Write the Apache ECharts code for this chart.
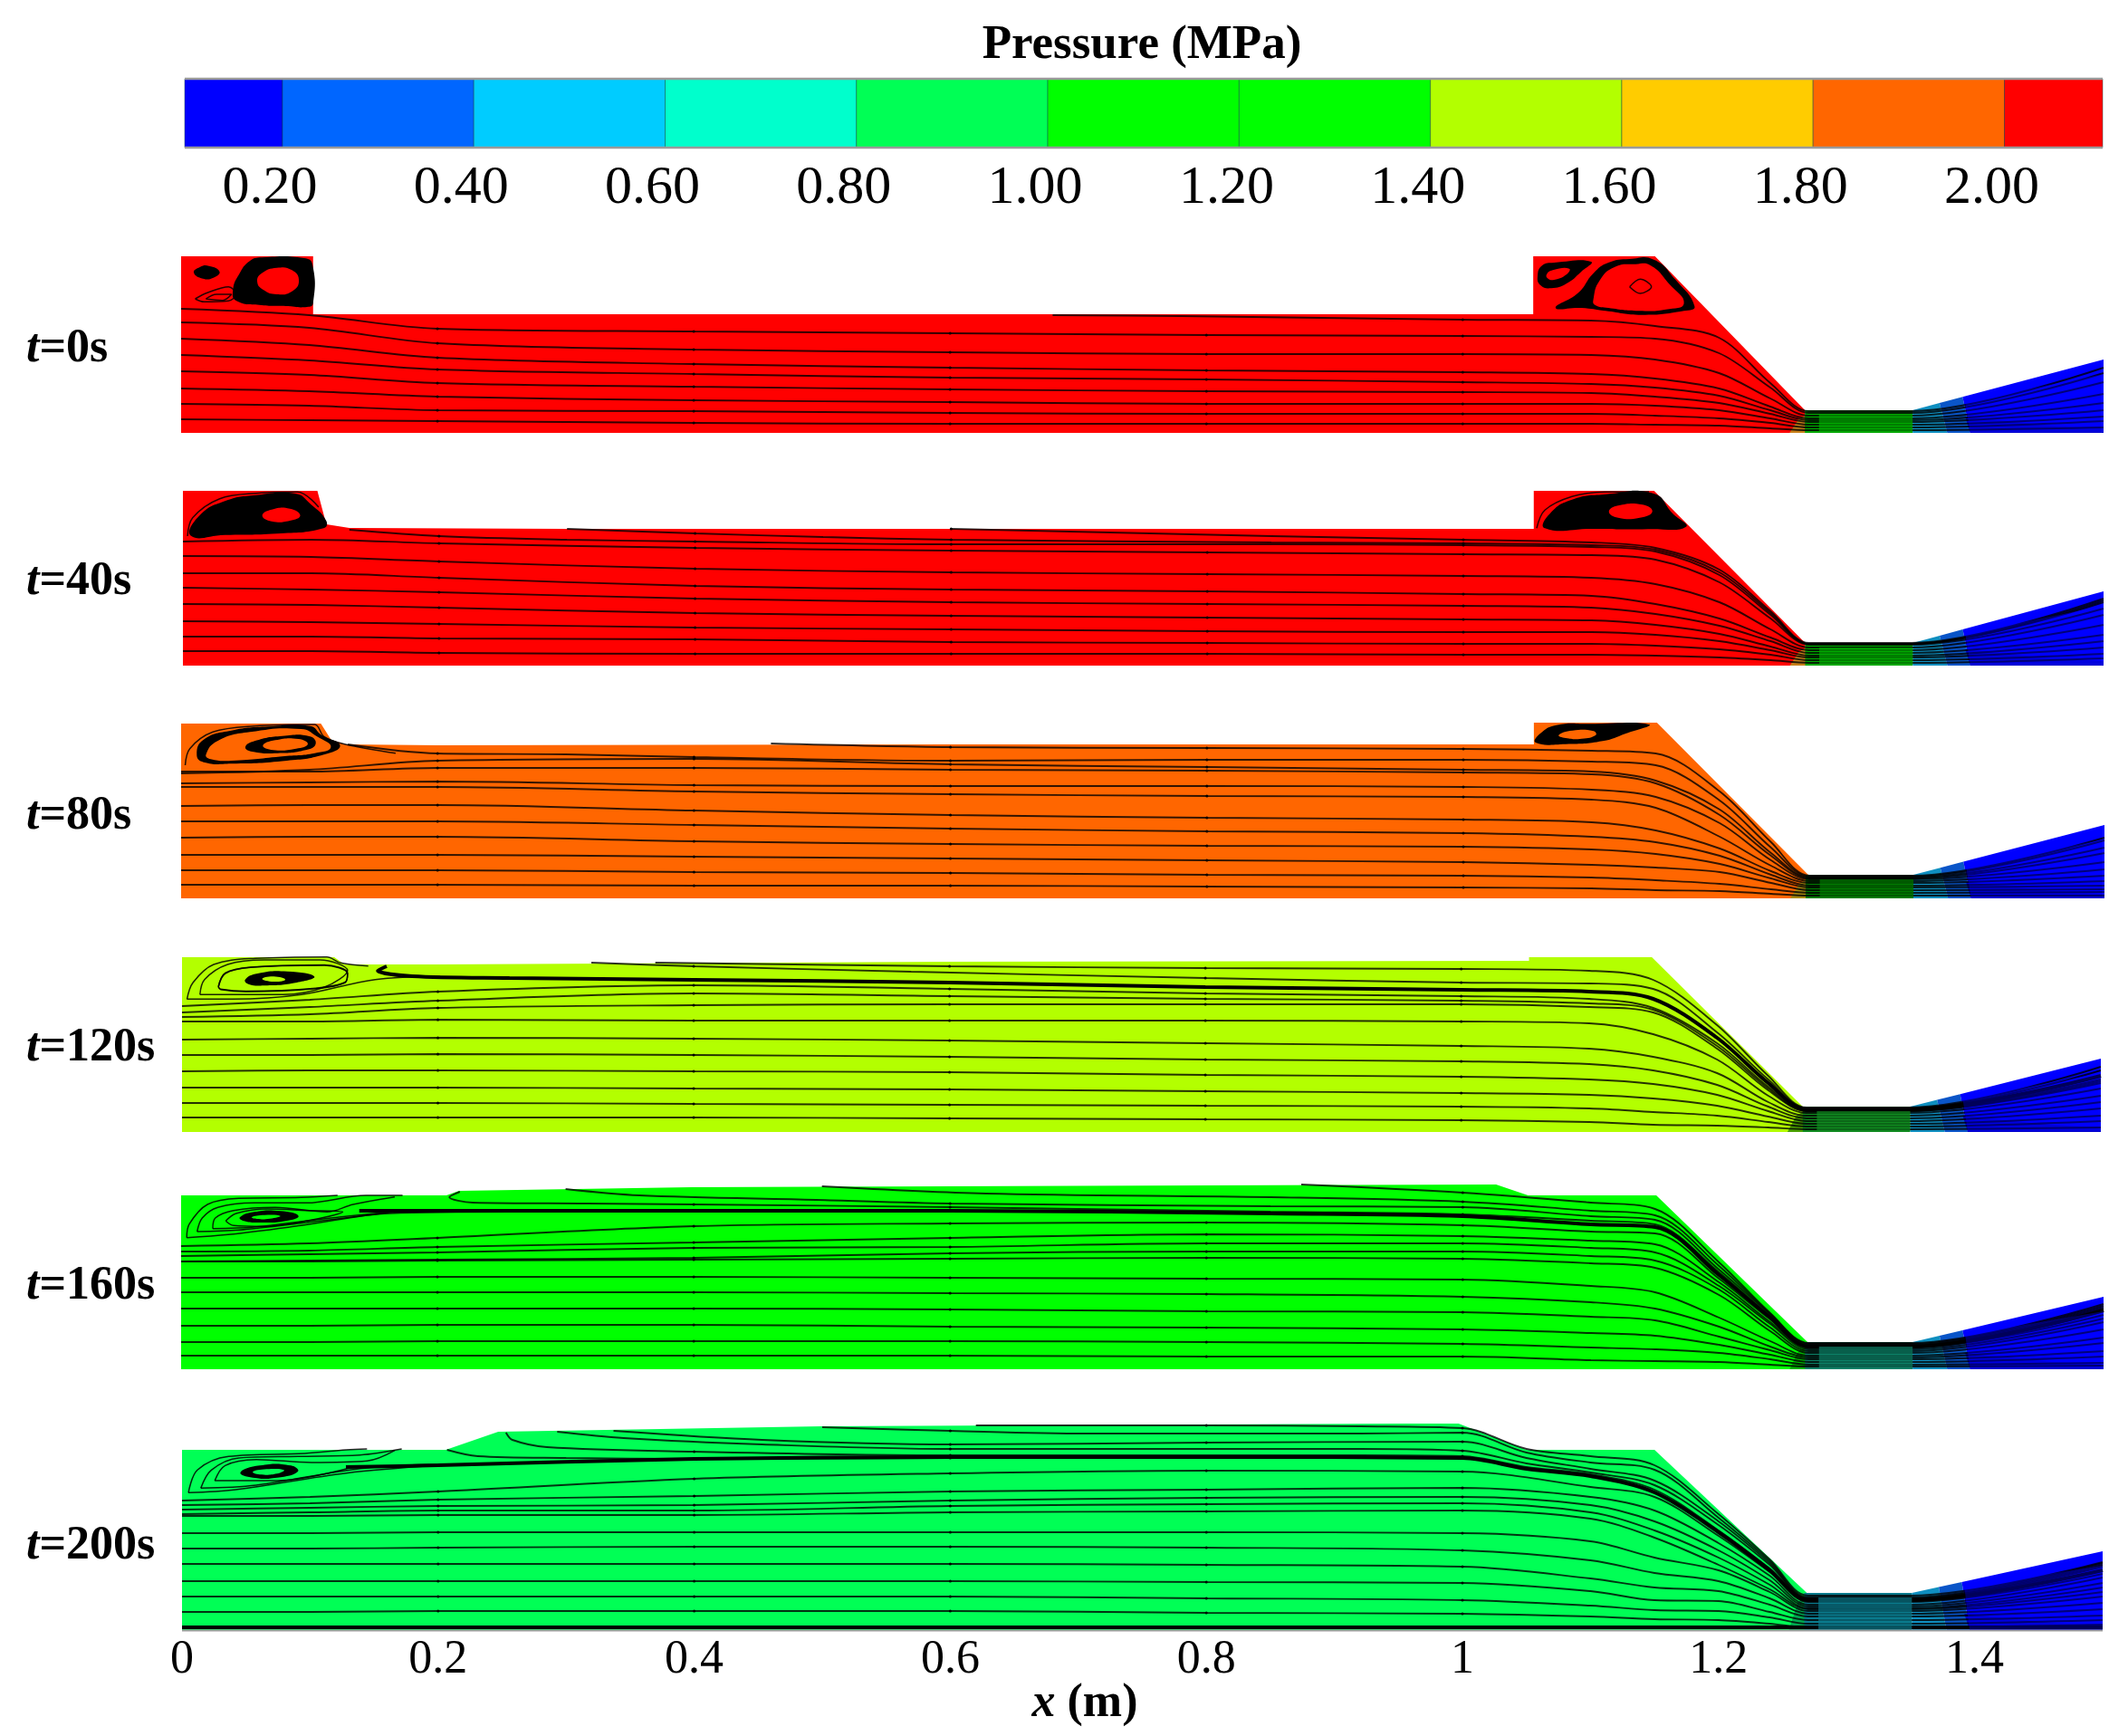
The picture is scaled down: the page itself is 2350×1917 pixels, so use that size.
<!DOCTYPE html>
<html><head><meta charset="utf-8">
<style>html,body{margin:0;padding:0;background:#fff}#c{width:2350px;height:1917px}</style>
<script src="https://cdn.jsdelivr.net/npm/echarts@6/dist/echarts.min.js"></script>
</head><body><div id="c"></div>
<script>
// ---- colour bar ----
const barEdges=[0.0978,0.2,0.4,0.6,0.8,1.0,1.2,1.4,1.6,1.8,2.0,2.1027];
const barColors=['#0000ff','#0066ff','#00ccff','#00ffcc','#00ff55','#00ff00','#00ff00','#b3ff00','#ffcc00','#ff6600','#ff0000'];
const barTicks=[0.2,0.4,0.6,0.8,1.0,1.2,1.4,1.6,1.8,2.0];
const xTicks=[0,0.2,0.4,0.6,0.8,1,1.2,1.4];
const timeLabels=['0s','40s','80s','120s','160s','200s'];
const panelColors=['#ff0000','#ff0000','#ff6600','#b3ff00','#00ff00','#00ff55'];
const inletTint=['#c8801a','#c8801a','#a88a10','#4aa000','#00b400','#00a850'];
const throatFill=['#00a800','#00a800','#007a00','#108a20','#0c8066','#0a7a8c'];
const throatTop=[25,25,26,28,30,41];
const outletTop=[81,82,81,81,80,87];
// streamline stations along x (m)
const X=[0,0.1,0.2,0.4,0.6,0.8,1,1.1,1.15,1.2,1.24,1.27,1.35,1.5];
// ---- panel outlines [x(m), height] ----
const p1Outline=[[0,0],[0,195],[0.103,195],[0.103,131],[1.055,131],[1.055,195],[1.15,195],[1.267,25],[1.267,0]];
const p2Outline=[[0,0],[0,193],[0.105,193],[0.112,156],[0.13,152],[0.3,151],[1.055,151],[1.055,193],[1.149,193],[1.267,25],[1.267,0]];
const p3Outline=[[0,0],[0,193],[0.109,193],[0.117,175],[0.128,170],[0.2,169],[0.6,170],[1.055,170],[1.055,194],[1.151,194],[1.269,26],[1.269,0]];
const p4Outline=[[0,0],[0,193],[0.119,193],[0.127,185],[0.2,185],[0.6,188],[1.053,189],[1.053,193],[1.149,193],[1.267,28],[1.267,0]];
const p5Outline=[[0,0],[0,192],[0.207,192],[0.217,197],[0.398,201],[0.8,203],[1.026,204],[1.051,192],[1.151,192],[1.269,30],[1.269,0]];
const p6Outline=[[0,0],[0,199],[0.206,199],[0.247,219],[0.5,225],[0.956,228],[0.997,228],[1.05,199],[1.15,199],[1.269,41],[1.269,0]];
// ---- streamlines: heights at stations X ----
const p1Lines=[
[137,130,115,112,110,108,107,106,104,88,50,22,22,66],
[122,116,99,92,89,87,87,86,81,66,38,19,19,56],
[104,97,83,76,72,69,67,65,60,49,29,16,16,43],
[86,80,70,65,61,59,56,54,50,41,25,14,14,33],
[68,64,55,51,48,46,45,44,40,33,21,12,12,25],
[49,46,40,36,34,32,32,32,30,25,16,9,9,18],
[32,30,25,24,22,21,21,21,19,16,11,6,6,13],
[15,14,13,11,10,10,10,10,9,8,5,3,3,6]];
const p1Extra=[[[0.68,130],[0.78,129],[1,125],[1.1,124],[1.15,118],[1.2,105],[1.24,55],[1.27,24],[1.35,24],[1.5,72]]];
const p2Lines=[
[137,139,135,130,127,125,123,122,117,92,52,23,23,63],
[121,120,115,107,103,101,99,97,90,70,40,20,20,56],
[102,102,97,88,84,82,79,77,68,52,31,17,17,45],
[86,84,81,74,70,68,66,64,57,44,27,14,14,34],
[68,67,64,58,55,53,51,50,45,35,21,11,11,27],
[49,48,46,42,40,38,37,37,34,27,17,9,9,20],
[32,32,30,29,26,25,24,24,22,18,12,6,6,13],
[16,16,14,13,13,13,12,12,11,9,6,3,3,8]];
const p2Extra=[
[[0.13,150],[0.2,143],[0.3,139],[0.4,137],[0.6,134],[0.85,134],[1,133],[1.1,131],[1.15,126],[1.2,100],[1.24,56],[1.27,24],[1.35,24],[1.5,70]],
[[0.3,151],[0.4,146],[0.5,142],[0.6,139],[0.85,136],[1,135],[1.1,133],[1.15,128],[1.2,103],[1.24,58],[1.27,24],[1.35,24],[1.5,72]],
[[0.6,151],[0.85,143],[1,139],[1.1,136],[1.15,130],[1.2,106],[1.24,60],[1.27,25],[1.35,25],[1.5,74]]];
const p3Lines=[
[138,142,152,154,148,145,142,140,130,98,50,23,23,56],
[140,140,144,144,142,141,139,137,127,92,47,22,22,50],
[127,128,129,125,124,124,123,120,112,83,42,21,21,40],
[123,123,123,118,115,113,112,109,100,68,36,19,19,32],
[102,103,103,97,92,89,87,84,75,55,30,17,17,25],
[85,85,85,81,77,74,72,68,62,47,26,14,14,19],
[67,68,68,63,60,58,57,54,49,38,22,12,12,14],
[48,48,48,46,44,42,40,37,34,29,17,9,9,10],
[31,31,31,29,28,26,25,23,20,16,10,6,6,7],
[15,15,15,14,14,13,12,11,9,8,5,3,3,3]];
const p3Extra=[
[[0.13,170],[0.2,160],[0.3,159],[0.4,156],[0.6,152],[0.8,153],[1,153],[1.1,151],[1.15,147],[1.2,108],[1.24,56],[1.27,24],[1.35,24],[1.5,64]],
[[0.46,171],[0.6,167],[0.8,166],[1,165],[1.1,163],[1.15,160],[1.2,118],[1.24,62],[1.27,25],[1.35,25],[1.5,67]]];
const p4Lines=[
[139,146,155,162,158,153,150,147,137,98,50,24,24,58],
[132,138,145,153,150,147,145,142,135,95,48,23,23,56],
[127,130,137,140,141,141,141,138,132,92,46,23,23,54],
[122,122,124,123,123,123,122,120,108,80,40,21,21,48],
[102,103,104,103,101,98,95,92,83,65,33,18,18,40],
[85,85,86,85,83,80,78,75,68,52,28,15,15,33],
[67,68,68,67,66,63,61,58,53,41,23,12,12,26],
[49,49,49,48,47,45,43,41,37,29,17,9,9,18],
[32,32,32,31,30,29,28,26,22,18,11,6,6,12],
[16,16,16,16,15,14,13,11,8,7,5,3,3,5]];
const p4Extra=[
[[0.37,187],[0.6,183],[0.8,181],[1,180],[1.1,178],[1.15,168],[1.2,118],[1.24,62],[1.27,27],[1.35,27],[1.5,72]],
[[0.32,187],[0.4,183],[0.57,177],[0.8,170],[1,165],[1.1,164],[1.15,158],[1.2,110],[1.24,58],[1.27,26],[1.35,26],[1.5,68]]];
const p4Thick=[[[0.16,183],[0.153,178],[0.18,172],[0.256,170],[0.4,168],[0.6,165],[0.8,160],[1,157],[1.1,155],[1.15,147],[1.2,104],[1.24,54],[1.27,25],[1.35,25],[1.5,62]]];
const p5Lines=[
[136,139,145,158,161,162,159,152,150,100,55,25,25,64],
[130,131,135,140,145,149,147,142,138,96,52,24,24,60],
[125,127,129,134,135,139,139,134,129,92,50,22,22,56],
[119,120,121,123,128,130,130,125,120,88,46,20,20,52],
[119,119,120,121,122,123,122,117,112,82,42,18,18,44],
[101,101,102,102,101,100,99,92,85,57,31,15,15,35],
[85,85,85,85,84,83,80,74,67,47,25,13,13,29],
[67,67,67,67,66,64,63,58,54,36,21,11,11,20],
[48,48,49,49,47,46,44,40,37,27,16,8,8,14],
[30,30,31,31,31,30,28,24,22,18,11,5,5,7],
[15,15,15,15,15,14,14,10,9,8,5,3,3,4]];
const p5Extra=[
[[0.874,204],[1,195],[1.1,184],[1.15,177],[1.2,118],[1.24,62],[1.27,29],[1.35,29],[1.5,72]],
[[0.5,202],[0.628,194],[0.85,190],[1,185],[1.1,175],[1.15,170],[1.2,114],[1.24,61],[1.27,28],[1.35,28],[1.5,70]],
[[0.3,199],[0.3575,192],[0.4954,187],[0.6,183],[0.85,180],[1,179],[1.1,169],[1.15,165],[1.2,110],[1.24,60],[1.27,27],[1.35,27],[1.5,68]],
[[0.2175,196],[0.2093,190],[0.2276,184],[0.3169,183],[0.4,182],[0.6,179],[0.85,174],[1,171],[1.1,164],[1.15,160],[1.2,107],[1.24,58],[1.27,26],[1.35,26],[1.5,66]]];
const p5Thick=[[[0.139,175],[0.2,175],[0.4,175],[0.6,175],[0.85,172],[1,169],[1.1,160],[1.15,157],[1.2,104],[1.24,57],[1.27,25],[1.35,25],[1.5,65]],
[[1.27,25],[1.35,25]]];
const p6Lines=[
[143,147,153,167,173,176,175,158,147,104,64,31,31,62],
[138,140,144,148,153,155,157,147,132,96,60,28,28,58],
[133,135,137,138,143,146,147,138,120,88,55,26,26,52],
[128,130,132,132,137,139,140,130,110,80,50,24,24,47],
[126,126,127,127,130,131,132,123,102,72,45,23,23,42],
[107,107,108,108,108,108,107,98,80,66,42,21,21,37],
[90,90,91,92,92,91,88,77,63,54,35,18,18,30],
[73,73,73,73,73,72,70,57,47,43,28,15,15,23],
[54,54,54,54,54,53,52,43,33,32,20,11,11,16],
[37,37,37,37,37,35,33,27,22,21,14,7,7,11],
[20,20,21,21,21,19,18,15,12,11,7,3,3,6]];
const p6Extra=[
[[0.62,226],[0.8,226],[0.92,225],[1,223],[1.05,200],[1.1,192],[1.15,182],[1.2,128],[1.24,78],[1.27,38],[1.35,38],[1.5,75]],
[[0.5,224],[0.6,220],[0.706,217],[0.92,217],[1,218],[1.05,196],[1.1,185],[1.15,177],[1.2,124],[1.24,76],[1.27,36],[1.35,36],[1.5,74]],
[[0.337,220],[0.453,210],[0.6,205],[0.8,207],[1,208],[1.05,190],[1.1,178],[1.15,165],[1.2,120],[1.24,74],[1.27,35],[1.35,35],[1.5,72]],
[[0.293,219],[0.345,212],[0.453,205],[0.6,200],[0.92,200],[1,198],[1.05,184],[1.1,174],[1.15,160],[1.2,116],[1.24,72],[1.27,34],[1.35,34],[1.5,70]],
[[0.253,218],[0.258,210],[0.285,202],[0.4,197],[0.6,193],[0.92,193],[1,192],[1.05,180],[1.1,172],[1.15,155],[1.2,110],[1.24,68],[1.27,33],[1.35,33],[1.5,66]],
[[0.207,199],[0.231,192],[0.3,190],[0.4,189],[0.6,190]]];
const p6Thick=[
[[0.128,180],[0.2,182],[0.4,189],[0.6,191],[0.8,191],[1,190],[1.05,178],[1.1,170],[1.15,152],[1.2,108],[1.24,66],[1.27,33],[1.35,33],[1.5,66]],
[[0,3],[1.5,3]]];
// ---- recirculation zones: closed loops [x,height] ----
const p1Ink=[
[[0.0535,189.7],[0.0629,193.7],[0.0959,193],[0.1025,186],[0.103,143],[0.0982,139],[0.0818,140],[0.0629,141],[0.0429,146],[0.0405,158],[0.0452,175]],
[[0.0099,177],[0.0146,183],[0.0217,184.3],[0.03,178],[0.0252,171.3],[0.017,170.3]],
[[1.0584,173],[1.0619,184.7],[1.0713,188],[1.1001,189],[1.0925,178],[1.0808,164.7],[1.069,159.7],[1.0607,163]],
[[1.0725,138],[1.0902,154.7],[1.102,176.3],[1.1137,188],[1.1302,192],[1.1491,191.3],[1.1656,169.7],[1.1809,139.7],[1.1726,134.7],[1.1396,130.3],[1.1114,134.7],[1.0925,138]]];
const p1Holes=[
[[0.0594,167],[0.0629,176.3],[0.0747,182.3],[0.0865,179.7],[0.0919,168],[0.0865,156.3],[0.0747,153],[0.0641,158]],
[[1.0654,174.7],[1.0702,179.7],[1.0831,181.3],[1.0808,174.7],[1.0713,169],[1.0666,170.3]],
[[1.102,148],[1.1067,168],[1.1184,183],[1.1349,186.3],[1.1467,184.7],[1.1609,164.7],[1.1726,143],[1.1585,136.3],[1.1373,134.7],[1.1137,138],[1.1031,141.3]]];
const p1Thin=[
[[0.011,148],[0.0205,154.7],[0.037,161.3],[0.0429,153],[0.037,145.7],[0.018,144.7],[0.011,148]],
[[0.0193,148],[0.0276,153],[0.0394,153],[0.0323,146.3],[0.0193,148]],
[[1.1302,161.3],[1.1385,169.7],[1.1472,161.3],[1.1385,154],[1.1302,161.3]]];
const p2Ink=[
[[0.0064,143.3],[0.0125,165],[0.0328,181.7],[0.0571,188.3],[0.0876,190],[0.0998,178.3],[0.1119,160],[0.1099,151.7],[0.0734,145.7],[0.0328,144.3]],
[[1.0637,151.7],[1.0679,168.3],[1.0849,183.3],[1.1103,189],[1.1485,190],[1.1633,168.3],[1.1739,153.3],[1.1442,150.7],[1.1018,151]]];
const p2Holes=[
[[0.062,165.7],[0.0693,172.3],[0.0835,173.3],[0.0916,165.7],[0.0835,160],[0.0693,159.3]],
[[1.1137,170],[1.1209,176.7],[1.14,177.7],[1.1476,170],[1.1378,163.3],[1.1209,163.3]]];
const p2Thin=[
[[0.0036,143],[0.0076,163.3],[0.0288,184.3],[0.0571,190.3],[0.0896,191.7],[0.106,175]],
[[1.0573,151.7],[1.0637,171.7],[1.0849,186.7],[1.1103,191.7],[1.145,192]]];
const p3Ink=[
[[0.0122,158.7],[0.0176,175.3],[0.0393,185.3],[0.0681,189.7],[0.1006,190.3],[0.1096,180.3],[0.124,168.7],[0.1114,158.7],[0.0825,152],[0.0393,148.7],[0.0176,150.3]],
[[1.0564,172],[1.06,182],[1.0726,191.3],[1.0979,192.7],[1.1447,192],[1.1267,182],[1.1087,173.7],[1.0798,170.3]]];
const p3Holes=[
[[0.0194,158.7],[0.0284,173.7],[0.0537,183.7],[0.0934,187],[0.106,178.7],[0.1168,167],[0.1042,160.3],[0.0807,157],[0.0393,152],[0.023,153.7]],
[[1.0744,180.3],[1.0852,185.3],[1.1015,184.7],[1.1033,180.3],[1.0924,176.3],[1.0798,177]]];
const p3Ink2=[[[0.0501,167],[0.0573,173.7],[0.0789,179.3],[0.1006,178.7],[0.1049,170.3],[0.097,163.7],[0.0753,160.3],[0.0555,162]]];
const p3Holes2=[[[0.0638,168.7],[0.0735,174.7],[0.0915,176],[0.0988,170.3],[0.0897,165.3],[0.0717,163.7]]];
const p3Thin=[
[[0.0032,147],[0.0068,165.3],[0.0248,183.7],[0.0573,190.3],[0.1042,192],[0.1114,178.7],[0.1276,170.3],[0.1673,160.3]]];
const p4Ink=[[[0.0494,168.3],[0.0591,175],[0.0825,177.3],[0.1034,171.7],[0.0897,165],[0.0645,161.7],[0.0519,163.3]]];
const p4Holes=[[[0.0627,169],[0.0717,171.7],[0.0807,168.3],[0.0717,166]]];
const p4Thin=[
[[0.0039,146.7],[0.0086,165],[0.0248,185],[0.0573,191.7],[0.1132,193.3],[0.124,186.7],[0.1456,183.3]],
[[0.0039,146.7],[0.0393,146.7],[0.0934,151.7],[0.151,168.3],[0.2016,171.7]],
[[0.014,151.7],[0.0176,168.3],[0.0357,185],[0.0645,190],[0.1078,190],[0.1294,178.3],[0.1114,160],[0.0789,151.7],[0.014,151.7]],
[[0.0284,160],[0.0338,175],[0.0537,181.7],[0.1114,184],[0.1294,175],[0.1276,165],[0.1042,158.3],[0.0501,155],[0.0302,157.3],[0.0284,160]],
[[0.0284,160.5],[0.0338,175.5],[0.0537,182],[0.1114,184.5],[0.1294,175.5],[0.1276,165.5],[0.1042,158.8],[0.0501,155.5],[0.0302,157.8],[0.0284,160.5]]];
const p5Ink=[[[0.0458,167.7],[0.0571,173.7],[0.0774,174.7],[0.0916,169.3],[0.0815,163.7],[0.0612,162],[0.049,163.7]]];
const p5Holes=[[[0.0551,168],[0.0652,170.3],[0.0774,169.3],[0.0693,166.3],[0.0592,166]]];
const p5Thin=[
[[0.0044,145.3],[0.0064,160.3],[0.0206,182],[0.045,188.7],[0.0936,189.7],[0.1221,192]],
[[0.0044,145.3],[0.0368,148.7],[0.0936,158.7],[0.1626,172],[0.256,173.7]],
[[0.0125,152],[0.0165,167],[0.0287,178.7],[0.0571,183.7],[0.0977,183.7],[0.1444,192],[0.1728,192]],
[[0.0125,152],[0.045,153.7],[0.0977,162],[0.1667,173.7]],
[[0.0247,155.3],[0.0267,167],[0.0409,175.3],[0.0734,178.7],[0.1139,173.7],[0.1342,182],[0.1667,190.3]],
[[0.0247,155.3],[0.0571,157],[0.1058,165.3],[0.1626,173.7]],
[[0.0348,163.7],[0.0429,172],[0.0673,177],[0.0977,175.3],[0.1261,173.7],[0.0977,163.7],[0.0652,157.7],[0.0409,158.7],[0.0348,163.7]]];
const p6Ink=[[[0.0456,174],[0.0607,181.7],[0.085,181.7],[0.0905,175],[0.0742,168.3],[0.0553,168.3]]];
const p6Holes=[[[0.0553,174.7],[0.0661,177.7],[0.0796,176.7],[0.0742,172.7],[0.0607,171.7]]];
const p6Thin=[
[[0.005,151.7],[0.012,176.7],[0.0364,191.7],[0.0959,195],[0.1283,199],[0.1445,200]],
[[0.005,151.7],[0.0418,155],[0.1283,173.3],[0.1986,181.7]],
[[0.0147,156.7],[0.0229,176.7],[0.0445,190],[0.0905,191.7],[0.1391,193.3],[0.1716,200]],
[[0.0147,156.7],[0.058,160],[0.1391,178.3],[0.204,183.3]],
[[0.0256,165],[0.0337,181.7],[0.058,188.3],[0.1013,185],[0.1445,186.7],[0.1662,198.3]],
[[0.0256,165],[0.0742,165],[0.1337,180]]];

const bottoms=[478,735,992,1250,1512,1800];
const lefts=[200,202,200,201,200,201];
const rights=[2323,2323,2324,2320,2323,2322];
const labelMid=[383,640,899,1155,1418,1705];
const GH=240;
const panels=[
{o:p1Outline,l:p1Lines,e:p1Extra,t:[],ink:p1Ink,holes:p1Holes,ink2:[],holes2:[],thin:p1Thin},
{o:p2Outline,l:p2Lines,e:p2Extra,t:[],ink:p2Ink,holes:p2Holes,ink2:[],holes2:[],thin:p2Thin},
{o:p3Outline,l:p3Lines,e:p3Extra,t:[],ink:p3Ink,holes:p3Holes,ink2:p3Ink2,holes2:p3Holes2,thin:p3Thin},
{o:p4Outline,l:p4Lines,e:p4Extra,t:p4Thick,ink:p4Ink,holes:p4Holes,ink2:[],holes2:[],thin:p4Thin},
{o:p5Outline,l:p5Lines,e:p5Extra,t:p5Thick,ink:p5Ink,holes:p5Holes,ink2:[],holes2:[],thin:p5Thin},
{o:p6Outline,l:p6Lines,e:p6Extra,t:p6Thick,ink:p6Ink,holes:p6Holes,ink2:[],holes2:[],thin:p6Thin}];

const FONT='"Liberation Serif","Times New Roman",serif';
const grid=[],xAxis=[],yAxis=[],series=[],title=[];

// colour bar grid
grid.push({left:204,width:2118,top:87,height:76,show:false});
xAxis.push({gridIndex:0,type:'value',min:barEdges[0],max:barEdges[barEdges.length-1],
  axisLine:{show:false},axisTick:{show:false},splitLine:{show:false},
  axisLabel:{show:true,customValues:barTicks,formatter:v=>v.toFixed(2),fontFamily:FONT,fontSize:60,color:'#000',margin:15,padding:[0,28,0,0]}});
yAxis.push({gridIndex:0,type:'value',min:0,max:1,show:false});
series.push({type:'custom',xAxisIndex:0,yAxisIndex:0,silent:true,animation:false,
  data:barColors.map((c,i)=>[barEdges[i],barEdges[i+1],i]),
  renderItem(p,api){
    const a=api.coord([api.value(0),1]),b=api.coord([api.value(1),0]);
    return {type:'rect',shape:{x:a[0],y:a[1],width:b[0]-a[0],height:b[1]-a[1]},
      style:{fill:barColors[api.value(2)],stroke:'rgba(0,60,60,0.45)',lineWidth:1}};
  }});
series.push({type:'line',xAxisIndex:0,yAxisIndex:0,silent:true,animation:false,symbol:'none',clip:false,
  data:[[barEdges[0],1],[barEdges[11],1]],lineStyle:{color:'#9a9a9a',width:2.5}});
series.push({type:'line',xAxisIndex:0,yAxisIndex:0,silent:true,animation:false,symbol:'none',clip:false,
  data:[[barEdges[0],0],[barEdges[11],0]],lineStyle:{color:'#9a9a9a',width:2.5}});

title.push({text:'Pressure (MPa)',left:1256,top:19,textAlign:'center',textStyle:{fontFamily:FONT,fontSize:53,fontWeight:'bold',color:'#000'}});
title.push({text:'{i|x}{b| (m)}',left:1193,top:1851,textAlign:'center',textStyle:{rich:{
  i:{fontFamily:FONT,fontSize:52,fontWeight:'bold',fontStyle:'italic',color:'#000'},
  b:{fontFamily:FONT,fontSize:52,fontWeight:'bold',color:'#000'}}}});

const dotX=[0.2,0.4,0.6,0.8,1];
function lineSeries(pts,g,w,col,dots,smooth,z){
  return {type:'line',xAxisIndex:g,yAxisIndex:g,silent:true,animation:false,clip:false,z:z||3,
    smooth:smooth,showSymbol:!!dots,symbol:'circle',
    symbolSize:v=>dotX.includes(v[0])?3:0,
    itemStyle:{color:'#000'},
    lineStyle:{color:col,width:w},data:pts};
}
function polySeries(list,g,z){
  return {type:'custom',xAxisIndex:g,yAxisIndex:g,silent:true,animation:false,z:z,
    data:list.map((p,i)=>[i]),
    renderItem(par,api){
      const p=list[par.dataIndex];
      return {type:'polygon',shape:{points:p.pts.map(q=>api.coord(q)),smooth:p.smooth||0},
        style:{fill:p.fill,opacity:p.alpha==null?1:p.alpha}};
    }};
}
panels.forEach((P,i)=>{
  const g=i+1,base=panelColors[i],T=throatTop[i],O=outletTop[i];
  const wall=x=>T+(O-T)*(x-1.351)/(1.5-1.351);
  const isLast=i===5;
  grid.push({left:lefts[i],width:rights[i]-lefts[i],top:bottoms[i]-GH,height:GH,show:false});
  xAxis.push({gridIndex:g,type:'value',min:0,max:1.5,interval:0.2,splitLine:{show:false},axisLine:{show:false},axisTick:{show:false},
    axisLabel:isLast?{show:true,customValues:xTicks,fontFamily:FONT,fontSize:52,color:'#000',margin:7}:{show:false}});
  yAxis.push({gridIndex:g,type:'value',min:0,max:GH,show:false});
  const fills=[{pts:P.o,fill:base},
    {pts:[[1.255,0],[1.262,T-10],[1.27,T-3],[1.277,T-5],[1.277,0]],fill:inletTint[i]},
    {pts:[[1.267,0],[1.267,T],[1.351,T],[1.351,0]],fill:throatFill[i]},
    {pts:[[1.351,0],[1.351,T],[1.372,wall(1.372)],[1.378,0]],fill:'#0f8fc0'},
    {pts:[[1.378,0],[1.372,wall(1.372)],[1.39,wall(1.39)],[1.396,0]],fill:'#0a55c8'},
    {pts:[[1.396,0],[1.39,wall(1.39)],[1.5,O],[1.5,0]],fill:'#0000ff'},
    {pts:[[1.396,0],[1.392,18],[1.46,8],[1.5,5],[1.5,0]],fill:'#0000cc'}];
  series.push(polySeries(fills,g,1));
  P.l.forEach(v=>series.push(lineSeries(v.map((h,k)=>[X[k],h]),g,1.9,'rgba(0,0,0,0.8)',true,0.33)));
  P.e.forEach(v=>series.push(lineSeries(v,g,1.9,'rgba(0,0,0,0.8)',true,0.33)));
  P.t.forEach(v=>series.push(lineSeries(v,g,4,'#000',false,0.33,4)));
  // veil that thins the packed streamlines through the throat and the outlet, as in the reference
  series.push(polySeries([
    {pts:[[1.278,1],[1.278,T-5],[1.351,T-5],[1.351,1]],fill:throatFill[i],alpha:0.68},
    {pts:[[1.396,1],[1.392,wall(1.392)-6],[1.5,O-16],[1.5,1]],fill:'#0000ff',alpha:0.35}],g,5));
  P.thin.forEach(v=>series.push(lineSeries(v,g,1.5,'rgba(0,0,0,0.85)',false,0.35,10)));
  series.push(polySeries(P.ink.map(pts=>({pts:pts,fill:'#000',smooth:0.5})),g,6));
  series.push(polySeries(P.holes.map(pts=>({pts:pts,fill:base,smooth:0.5})),g,7));
  if(P.ink2.length){
    series.push(polySeries(P.ink2.map(pts=>({pts:pts,fill:'#000',smooth:0.5})),g,8));
    series.push(polySeries(P.holes2.map(pts=>({pts:pts,fill:base,smooth:0.5})),g,9));
  }
  title.push({text:'{i|t}{b|='+timeLabels[i]+'}',left:24,top:labelMid[i]-28,textStyle:{rich:{
    i:{fontFamily:FONT,fontSize:52,fontWeight:'bold',fontStyle:'italic',color:'#000'},
    b:{fontFamily:FONT,fontSize:52,fontWeight:'bold',color:'#000'}}}});
});
// grey foot under the last panel's wall
series.push({type:'line',xAxisIndex:6,yAxisIndex:6,silent:true,animation:false,clip:false,symbol:'none',z:4,
  data:[[0,-0.5],[1.5,-0.5]],lineStyle:{color:'#999',width:2}});

const chart=echarts.init(document.getElementById('c'),null,{width:2350,height:1917});
chart.setOption({backgroundColor:'#fff',animation:false,title,grid,xAxis,yAxis,series});
</script></body></html>
